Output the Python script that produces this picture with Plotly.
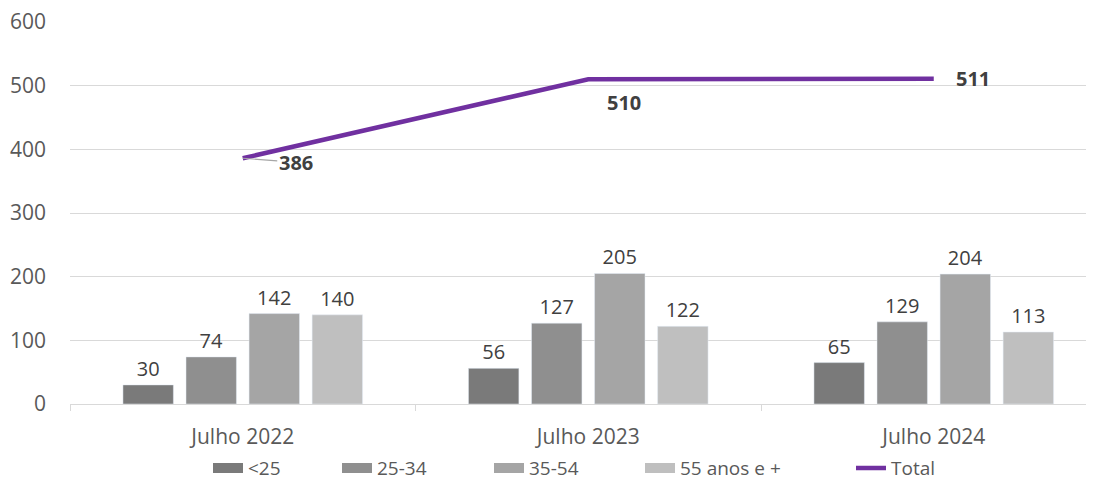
import plotly.graph_objects as go

categories = ["Julho 2022", "Julho 2023", "Julho 2024"]
series_names = ["<25", "25-34", "35-54", "55 anos e +"]
v_lt25 = [30, 56, 65]
v_25_34 = [74, 127, 129]
v_35_54 = [142, 205, 204]
v_55 = [140, 122, 113]
total = [386, 510, 511]
y_ticks = [0, 100, 200, 300, 400, 500, 600]

colors = ["#7a7a7a", "#8f8f8f", "#a5a5a5", "#bfbfbf"]
purple = "#7030a0"
label_font = dict(family="Open Sans, Liberation Sans, sans-serif", size=20, color="#404040")
tick_font = dict(family="Open Sans, Liberation Sans, sans-serif", size=21, color="#595959")
legend_font = dict(family="Open Sans, sans-serif", size=19, color="#595959")

W, H = 1086, 472

fig = go.Figure()
for name, vals, c in zip(series_names, [v_lt25, v_25_34, v_35_54, v_55], colors):
    fig.add_trace(go.Bar(
        x=categories, y=vals, name=name, marker_color=c, showlegend=False,
        text=[str(v) for v in vals], textposition="outside",
        textfont=label_font, cliponaxis=False,
    ))

fig.add_trace(go.Scatter(
    x=categories, y=total, name="Total", mode="lines",
    line=dict(color=purple, width=4.5), showlegend=False,
))

# legend entries, each in its own legend so spacing follows the original
legend_names = ["legend", "legend2", "legend3", "legend4", "legend5"]
legend_text_x = [250, 379, 531, 682, 893]  # where each legend label starts
for name, c, lg in zip(series_names, colors, legend_names[:4]):
    fig.add_trace(go.Scatter(x=[None], y=[None], mode="lines", name=name,
                             line=dict(color=c, width=15), legend=lg))
fig.add_trace(go.Scatter(x=[None], y=[None], mode="lines", name="Total",
                         line=dict(color=purple, width=4.5), legend="legend5"))

legends = {}
for lg, tx in zip(legend_names, legend_text_x):
    legends[lg] = dict(orientation="h", xref="container", yref="container",
                       x=(tx - 8 - 42) / W, xanchor="left",
                       y=0.025, yanchor="middle", font=legend_font,
                       itemwidth=30, bgcolor="rgba(0,0,0,0)")

offsets = [(53, 4), (36, 23), (39, 0)]
for i, (cat, v) in enumerate(zip(categories, total)):
    ax, ay = offsets[i]
    fig.add_annotation(
        x=cat, y=v, text="<b>%d</b>" % v, showarrow=(i == 0),
        arrowhead=0, arrowcolor="#a6a6a6", arrowwidth=1.2,
        ax=ax, ay=ay, xshift=0 if i == 0 else ax, yshift=0 if i == 0 else -ay,
        font=dict(family="Open Sans, sans-serif", size=20, color="#404040"),
    )

fig.update_layout(
    width=W, height=H,
    margin=dict(l=62, r=0, t=14, b=76),
    plot_bgcolor="white", paper_bgcolor="white",
    barmode="group", bargap=0.27, bargroupgap=0.2,
    showlegend=True,
    **legends,
    xaxis=dict(
        range=[-0.5, 2.4638],
        showgrid=False, showline=True, linecolor="#d9d9d9", linewidth=1,
        ticks="outside", tickson="boundaries", ticklen=6, tickcolor="#d9d9d9",
        tickfont=tick_font, automargin=False, ticklabelstandoff=14,
    ),
    yaxis=dict(
        range=[0, 600], tickvals=y_ticks, showgrid=True, gridcolor="#d9d9d9", gridwidth=1,
        zeroline=False, showline=False, automargin=False,
        tickfont=tick_font, ticklabelstandoff=23, ticklabeloverflow="allow",
    ),
)

fig.write_html("out.html")
